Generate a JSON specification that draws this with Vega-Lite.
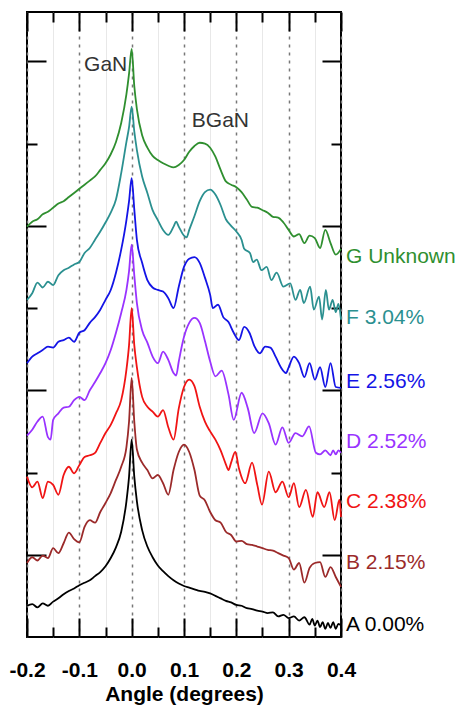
{
"$schema": "https://vega.github.io/schema/vega-lite/v6.json",
"width": 314, "height": 625,
"autosize": {"type": "none"},
"padding": {"left": 27, "top": 12, "right": 120, "bottom": 69},
"background": "white",
"config": {"view": {"stroke": "black", "strokeWidth": 2}, "font": "Liberation Sans"},
"datasets": {
"curves": [
{"s":"A","x":-0.2,"y":0.38},{"s":"A","x":-0.19,"y":0.40},{"s":"A","x":-0.18,"y":0.36},{"s":"A","x":-0.17,"y":0.41},{"s":"A","x":-0.16,"y":0.38},{"s":"A","x":-0.15,"y":0.43},{"s":"A","x":-0.14,"y":0.47},{"s":"A","x":-0.13,"y":0.52},{"s":"A","x":-0.12,"y":0.56},{"s":"A","x":-0.11,"y":0.59},{"s":"A","x":-0.1,"y":0.63},{"s":"A","x":-0.09,"y":0.66},{"s":"A","x":-0.08,"y":0.69},{"s":"A","x":-0.07,"y":0.74},{"s":"A","x":-0.06,"y":0.79},{"s":"A","x":-0.05,"y":0.86},{"s":"A","x":-0.04,"y":0.96},{"s":"A","x":-0.03,"y":1.09},{"s":"A","x":-0.02,"y":1.28},{"s":"A","x":-0.01,"y":1.65},{"s":"A","x":-0.005,"y":1.95},{"s":"A","x":0,"y":2.40},{"s":"A","x":0.005,"y":1.95},{"s":"A","x":0.01,"y":1.65},{"s":"A","x":0.02,"y":1.30},{"s":"A","x":0.03,"y":1.10},{"s":"A","x":0.04,"y":0.97},{"s":"A","x":0.05,"y":0.87},{"s":"A","x":0.06,"y":0.80},{"s":"A","x":0.07,"y":0.74},{"s":"A","x":0.08,"y":0.69},{"s":"A","x":0.09,"y":0.65},{"s":"A","x":0.1,"y":0.62},{"s":"A","x":0.11,"y":0.60},{"s":"A","x":0.12,"y":0.58},{"s":"A","x":0.13,"y":0.56},{"s":"A","x":0.14,"y":0.55},{"s":"A","x":0.15,"y":0.53},{"s":"A","x":0.16,"y":0.50},{"s":"A","x":0.17,"y":0.47},{"s":"A","x":0.18,"y":0.44},{"s":"A","x":0.19,"y":0.42},{"s":"A","x":0.2,"y":0.39},{"s":"A","x":0.21,"y":0.38},{"s":"A","x":0.22,"y":0.35},{"s":"A","x":0.23,"y":0.34},{"s":"A","x":0.24,"y":0.32},{"s":"A","x":0.25,"y":0.31},{"s":"A","x":0.26,"y":0.29},{"s":"A","x":0.27,"y":0.30},{"s":"A","x":0.28,"y":0.25},{"s":"A","x":0.29,"y":0.27},{"s":"A","x":0.3,"y":0.23},{"s":"A","x":0.31,"y":0.25},{"s":"A","x":0.32,"y":0.20},{"s":"A","x":0.33,"y":0.24},{"s":"A","x":0.34,"y":0.15},{"s":"A","x":0.345,"y":0.22},{"s":"A","x":0.35,"y":0.14},{"s":"A","x":0.355,"y":0.20},{"s":"A","x":0.36,"y":0.12},{"s":"A","x":0.365,"y":0.18},{"s":"A","x":0.37,"y":0.10},{"s":"A","x":0.375,"y":0.17},{"s":"A","x":0.38,"y":0.11},{"s":"A","x":0.385,"y":0.18},{"s":"A","x":0.39,"y":0.10},{"s":"A","x":0.395,"y":0.16},{"s":"A","x":0.4,"y":0.14},
{"s":"B","x":-0.2,"y":0.90},{"s":"B","x":-0.19,"y":0.97},{"s":"B","x":-0.18,"y":0.93},{"s":"B","x":-0.17,"y":0.99},{"s":"B","x":-0.16,"y":0.96},{"s":"B","x":-0.15,"y":1.08},{"s":"B","x":-0.14,"y":1.02},{"s":"B","x":-0.13,"y":1.14},{"s":"B","x":-0.12,"y":1.27},{"s":"B","x":-0.11,"y":1.19},{"s":"B","x":-0.1,"y":1.15},{"s":"B","x":-0.09,"y":1.34},{"s":"B","x":-0.08,"y":1.42},{"s":"B","x":-0.07,"y":1.39},{"s":"B","x":-0.06,"y":1.52},{"s":"B","x":-0.05,"y":1.63},{"s":"B","x":-0.04,"y":1.75},{"s":"B","x":-0.03,"y":1.91},{"s":"B","x":-0.02,"y":2.07},{"s":"B","x":-0.01,"y":2.31},{"s":"B","x":-0.005,"y":2.62},{"s":"B","x":0,"y":3.15},{"s":"B","x":0.005,"y":2.62},{"s":"B","x":0.01,"y":2.28},{"s":"B","x":0.02,"y":2.12},{"s":"B","x":0.03,"y":2.03},{"s":"B","x":0.04,"y":1.93},{"s":"B","x":0.05,"y":1.97},{"s":"B","x":0.06,"y":1.87},{"s":"B","x":0.07,"y":1.73},{"s":"B","x":0.08,"y":2.03},{"s":"B","x":0.09,"y":2.25},{"s":"B","x":0.1,"y":2.34},{"s":"B","x":0.11,"y":2.25},{"s":"B","x":0.12,"y":2.03},{"s":"B","x":0.13,"y":1.72},{"s":"B","x":0.14,"y":1.66},{"s":"B","x":0.15,"y":1.52},{"s":"B","x":0.16,"y":1.42},{"s":"B","x":0.17,"y":1.39},{"s":"B","x":0.18,"y":1.28},{"s":"B","x":0.19,"y":1.24},{"s":"B","x":0.2,"y":1.16},{"s":"B","x":0.21,"y":1.17},{"s":"B","x":0.22,"y":1.13},{"s":"B","x":0.23,"y":1.12},{"s":"B","x":0.24,"y":1.10},{"s":"B","x":0.25,"y":1.08},{"s":"B","x":0.26,"y":1.06},{"s":"B","x":0.27,"y":1.05},{"s":"B","x":0.28,"y":1.02},{"s":"B","x":0.29,"y":0.99},{"s":"B","x":0.3,"y":0.96},{"s":"B","x":0.31,"y":0.82},{"s":"B","x":0.32,"y":0.90},{"s":"B","x":0.33,"y":0.66},{"s":"B","x":0.34,"y":0.84},{"s":"B","x":0.35,"y":0.90},{"s":"B","x":0.36,"y":0.91},{"s":"B","x":0.37,"y":0.73},{"s":"B","x":0.38,"y":0.85},{"s":"B","x":0.39,"y":0.73},{"s":"B","x":0.4,"y":0.61},
{"s":"C","x":-0.2,"y":1.95},{"s":"C","x":-0.19,"y":1.82},{"s":"C","x":-0.18,"y":1.89},{"s":"C","x":-0.17,"y":1.69},{"s":"C","x":-0.16,"y":1.89},{"s":"C","x":-0.15,"y":1.85},{"s":"C","x":-0.14,"y":1.73},{"s":"C","x":-0.13,"y":1.97},{"s":"C","x":-0.12,"y":2.07},{"s":"C","x":-0.11,"y":1.99},{"s":"C","x":-0.1,"y":2.09},{"s":"C","x":-0.09,"y":2.19},{"s":"C","x":-0.08,"y":2.21},{"s":"C","x":-0.07,"y":2.24},{"s":"C","x":-0.06,"y":2.36},{"s":"C","x":-0.05,"y":2.48},{"s":"C","x":-0.04,"y":2.58},{"s":"C","x":-0.03,"y":2.72},{"s":"C","x":-0.02,"y":2.88},{"s":"C","x":-0.01,"y":3.25},{"s":"C","x":-0.005,"y":3.55},{"s":"C","x":0,"y":4.00},{"s":"C","x":0.005,"y":3.55},{"s":"C","x":0.01,"y":3.28},{"s":"C","x":0.02,"y":2.92},{"s":"C","x":0.03,"y":2.80},{"s":"C","x":0.04,"y":2.74},{"s":"C","x":0.05,"y":2.68},{"s":"C","x":0.06,"y":2.76},{"s":"C","x":0.07,"y":2.55},{"s":"C","x":0.08,"y":2.40},{"s":"C","x":0.09,"y":2.78},{"s":"C","x":0.1,"y":3.04},{"s":"C","x":0.11,"y":3.13},{"s":"C","x":0.12,"y":3.05},{"s":"C","x":0.13,"y":2.80},{"s":"C","x":0.14,"y":2.62},{"s":"C","x":0.15,"y":2.50},{"s":"C","x":0.16,"y":2.40},{"s":"C","x":0.17,"y":2.27},{"s":"C","x":0.18,"y":2.10},{"s":"C","x":0.185,"y":2.03},{"s":"C","x":0.19,"y":2.12},{"s":"C","x":0.198,"y":2.25},{"s":"C","x":0.205,"y":2.05},{"s":"C","x":0.217,"y":1.87},{"s":"C","x":0.23,"y":2.12},{"s":"C","x":0.24,"y":1.85},{"s":"C","x":0.249,"y":1.61},{"s":"C","x":0.262,"y":2.01},{"s":"C","x":0.275,"y":1.76},{"s":"C","x":0.288,"y":1.89},{"s":"C","x":0.3,"y":1.70},{"s":"C","x":0.31,"y":1.87},{"s":"C","x":0.32,"y":1.58},{"s":"C","x":0.333,"y":1.79},{"s":"C","x":0.346,"y":1.46},{"s":"C","x":0.355,"y":1.76},{"s":"C","x":0.368,"y":1.58},{"s":"C","x":0.378,"y":1.76},{"s":"C","x":0.388,"y":1.42},{"s":"C","x":0.397,"y":1.67},{"s":"C","x":0.4,"y":1.46},
{"s":"D","x":-0.2,"y":2.45},{"s":"D","x":-0.19,"y":2.52},{"s":"D","x":-0.18,"y":2.62},{"s":"D","x":-0.17,"y":2.68},{"s":"D","x":-0.16,"y":2.43},{"s":"D","x":-0.155,"y":2.40},{"s":"D","x":-0.15,"y":2.64},{"s":"D","x":-0.14,"y":2.72},{"s":"D","x":-0.13,"y":2.79},{"s":"D","x":-0.12,"y":2.80},{"s":"D","x":-0.11,"y":2.88},{"s":"D","x":-0.1,"y":2.92},{"s":"D","x":-0.09,"y":2.88},{"s":"D","x":-0.08,"y":3.00},{"s":"D","x":-0.07,"y":3.10},{"s":"D","x":-0.06,"y":3.21},{"s":"D","x":-0.05,"y":3.33},{"s":"D","x":-0.04,"y":3.49},{"s":"D","x":-0.03,"y":3.70},{"s":"D","x":-0.02,"y":3.94},{"s":"D","x":-0.01,"y":4.22},{"s":"D","x":-0.005,"y":4.45},{"s":"D","x":0,"y":4.77},{"s":"D","x":0.005,"y":4.40},{"s":"D","x":0.01,"y":4.06},{"s":"D","x":0.02,"y":3.73},{"s":"D","x":0.03,"y":3.58},{"s":"D","x":0.04,"y":3.41},{"s":"D","x":0.05,"y":3.33},{"s":"D","x":0.06,"y":3.47},{"s":"D","x":0.07,"y":3.37},{"s":"D","x":0.08,"y":3.21},{"s":"D","x":0.085,"y":3.18},{"s":"D","x":0.09,"y":3.35},{"s":"D","x":0.1,"y":3.65},{"s":"D","x":0.11,"y":3.82},{"s":"D","x":0.12,"y":3.88},{"s":"D","x":0.13,"y":3.82},{"s":"D","x":0.14,"y":3.60},{"s":"D","x":0.15,"y":3.35},{"s":"D","x":0.16,"y":3.17},{"s":"D","x":0.172,"y":3.24},{"s":"D","x":0.185,"y":2.95},{"s":"D","x":0.195,"y":2.64},{"s":"D","x":0.21,"y":2.97},{"s":"D","x":0.222,"y":2.78},{"s":"D","x":0.234,"y":2.48},{"s":"D","x":0.25,"y":2.72},{"s":"D","x":0.262,"y":2.60},{"s":"D","x":0.275,"y":2.34},{"s":"D","x":0.288,"y":2.55},{"s":"D","x":0.3,"y":2.36},{"s":"D","x":0.313,"y":2.48},{"s":"D","x":0.326,"y":2.44},{"s":"D","x":0.339,"y":2.56},{"s":"D","x":0.352,"y":2.24},{"s":"D","x":0.36,"y":2.22},{"s":"D","x":0.37,"y":2.27},{"s":"D","x":0.38,"y":2.21},{"s":"D","x":0.385,"y":2.27},{"s":"D","x":0.39,"y":2.22},{"s":"D","x":0.395,"y":2.27},{"s":"D","x":0.4,"y":2.24},
{"s":"E","x":-0.2,"y":3.33},{"s":"E","x":-0.19,"y":3.41},{"s":"E","x":-0.18,"y":3.45},{"s":"E","x":-0.17,"y":3.49},{"s":"E","x":-0.16,"y":3.53},{"s":"E","x":-0.15,"y":3.52},{"s":"E","x":-0.14,"y":3.59},{"s":"E","x":-0.13,"y":3.61},{"s":"E","x":-0.12,"y":3.64},{"s":"E","x":-0.11,"y":3.59},{"s":"E","x":-0.1,"y":3.70},{"s":"E","x":-0.09,"y":3.73},{"s":"E","x":-0.08,"y":3.82},{"s":"E","x":-0.07,"y":3.89},{"s":"E","x":-0.06,"y":3.98},{"s":"E","x":-0.05,"y":4.10},{"s":"E","x":-0.04,"y":4.22},{"s":"E","x":-0.03,"y":4.43},{"s":"E","x":-0.02,"y":4.71},{"s":"E","x":-0.01,"y":5.07},{"s":"E","x":-0.005,"y":5.30},{"s":"E","x":0,"y":5.58},{"s":"E","x":0.005,"y":5.20},{"s":"E","x":0.01,"y":4.83},{"s":"E","x":0.02,"y":4.55},{"s":"E","x":0.03,"y":4.34},{"s":"E","x":0.04,"y":4.25},{"s":"E","x":0.05,"y":4.22},{"s":"E","x":0.06,"y":4.20},{"s":"E","x":0.07,"y":4.12},{"s":"E","x":0.08,"y":4.00},{"s":"E","x":0.09,"y":4.26},{"s":"E","x":0.1,"y":4.50},{"s":"E","x":0.11,"y":4.60},{"s":"E","x":0.12,"y":4.62},{"s":"E","x":0.13,"y":4.55},{"s":"E","x":0.14,"y":4.37},{"s":"E","x":0.15,"y":4.16},{"s":"E","x":0.155,"y":4.00},{"s":"E","x":0.165,"y":4.04},{"s":"E","x":0.175,"y":3.89},{"s":"E","x":0.185,"y":3.83},{"s":"E","x":0.195,"y":3.70},{"s":"E","x":0.205,"y":3.61},{"s":"E","x":0.215,"y":3.77},{"s":"E","x":0.225,"y":3.70},{"s":"E","x":0.235,"y":3.53},{"s":"E","x":0.245,"y":3.45},{"s":"E","x":0.255,"y":3.53},{"s":"E","x":0.265,"y":3.52},{"s":"E","x":0.275,"y":3.41},{"s":"E","x":0.285,"y":3.28},{"s":"E","x":0.295,"y":3.21},{"s":"E","x":0.3,"y":3.28},{"s":"E","x":0.31,"y":3.41},{"s":"E","x":0.32,"y":3.33},{"s":"E","x":0.33,"y":3.16},{"s":"E","x":0.34,"y":3.33},{"s":"E","x":0.35,"y":3.13},{"s":"E","x":0.36,"y":3.28},{"s":"E","x":0.37,"y":3.04},{"s":"E","x":0.38,"y":3.33},{"s":"E","x":0.39,"y":3.04},{"s":"E","x":0.4,"y":3.03},
{"s":"F","x":-0.2,"y":4.10},{"s":"F","x":-0.19,"y":4.18},{"s":"F","x":-0.18,"y":4.31},{"s":"F","x":-0.17,"y":4.25},{"s":"F","x":-0.16,"y":4.32},{"s":"F","x":-0.15,"y":4.28},{"s":"F","x":-0.14,"y":4.40},{"s":"F","x":-0.13,"y":4.46},{"s":"F","x":-0.12,"y":4.49},{"s":"F","x":-0.11,"y":4.53},{"s":"F","x":-0.1,"y":4.56},{"s":"F","x":-0.09,"y":4.67},{"s":"F","x":-0.08,"y":4.73},{"s":"F","x":-0.07,"y":4.83},{"s":"F","x":-0.06,"y":4.93},{"s":"F","x":-0.05,"y":5.04},{"s":"F","x":-0.04,"y":5.16},{"s":"F","x":-0.03,"y":5.32},{"s":"F","x":-0.02,"y":5.64},{"s":"F","x":-0.01,"y":6.02},{"s":"F","x":-0.005,"y":6.20},{"s":"F","x":0,"y":6.45},{"s":"F","x":0.005,"y":6.15},{"s":"F","x":0.01,"y":5.92},{"s":"F","x":0.02,"y":5.60},{"s":"F","x":0.03,"y":5.40},{"s":"F","x":0.04,"y":5.19},{"s":"F","x":0.05,"y":5.07},{"s":"F","x":0.06,"y":4.95},{"s":"F","x":0.07,"y":4.89},{"s":"F","x":0.08,"y":4.99},{"s":"F","x":0.085,"y":5.05},{"s":"F","x":0.09,"y":4.99},{"s":"F","x":0.1,"y":4.88},{"s":"F","x":0.105,"y":4.86},{"s":"F","x":0.11,"y":4.95},{"s":"F","x":0.12,"y":5.12},{"s":"F","x":0.13,"y":5.30},{"s":"F","x":0.14,"y":5.41},{"s":"F","x":0.15,"y":5.44},{"s":"F","x":0.16,"y":5.38},{"s":"F","x":0.17,"y":5.25},{"s":"F","x":0.18,"y":5.08},{"s":"F","x":0.19,"y":5.00},{"s":"F","x":0.2,"y":4.93},{"s":"F","x":0.21,"y":4.83},{"s":"F","x":0.215,"y":4.72},{"s":"F","x":0.226,"y":4.67},{"s":"F","x":0.232,"y":4.56},{"s":"F","x":0.239,"y":4.59},{"s":"F","x":0.248,"y":4.46},{"s":"F","x":0.258,"y":4.50},{"s":"F","x":0.267,"y":4.34},{"s":"F","x":0.277,"y":4.43},{"s":"F","x":0.29,"y":4.26},{"s":"F","x":0.303,"y":4.30},{"s":"F","x":0.313,"y":4.10},{"s":"F","x":0.322,"y":4.22},{"s":"F","x":0.329,"y":4.06},{"s":"F","x":0.341,"y":4.26},{"s":"F","x":0.348,"y":3.98},{"s":"F","x":0.358,"y":4.14},{"s":"F","x":0.364,"y":3.86},{"s":"F","x":0.371,"y":4.22},{"s":"F","x":0.377,"y":3.98},{"s":"F","x":0.384,"y":4.10},{"s":"F","x":0.39,"y":3.95},{"s":"F","x":0.395,"y":4.05},{"s":"F","x":0.4,"y":3.86},
{"s":"G","x":-0.2,"y":4.99},{"s":"G","x":-0.19,"y":5.05},{"s":"G","x":-0.18,"y":5.08},{"s":"G","x":-0.17,"y":5.14},{"s":"G","x":-0.16,"y":5.17},{"s":"G","x":-0.15,"y":5.22},{"s":"G","x":-0.14,"y":5.27},{"s":"G","x":-0.13,"y":5.30},{"s":"G","x":-0.12,"y":5.35},{"s":"G","x":-0.11,"y":5.40},{"s":"G","x":-0.1,"y":5.45},{"s":"G","x":-0.09,"y":5.50},{"s":"G","x":-0.08,"y":5.55},{"s":"G","x":-0.07,"y":5.60},{"s":"G","x":-0.06,"y":5.68},{"s":"G","x":-0.05,"y":5.76},{"s":"G","x":-0.04,"y":5.87},{"s":"G","x":-0.03,"y":6.02},{"s":"G","x":-0.02,"y":6.25},{"s":"G","x":-0.01,"y":6.60},{"s":"G","x":-0.005,"y":6.85},{"s":"G","x":0,"y":7.15},{"s":"G","x":0.005,"y":6.70},{"s":"G","x":0.01,"y":6.42},{"s":"G","x":0.02,"y":6.10},{"s":"G","x":0.03,"y":5.95},{"s":"G","x":0.04,"y":5.85},{"s":"G","x":0.05,"y":5.80},{"s":"G","x":0.06,"y":5.76},{"s":"G","x":0.07,"y":5.73},{"s":"G","x":0.08,"y":5.71},{"s":"G","x":0.09,"y":5.74},{"s":"G","x":0.1,"y":5.80},{"s":"G","x":0.11,"y":5.90},{"s":"G","x":0.12,"y":5.97},{"s":"G","x":0.13,"y":6.01},{"s":"G","x":0.14,"y":6.00},{"s":"G","x":0.15,"y":5.95},{"s":"G","x":0.16,"y":5.84},{"s":"G","x":0.17,"y":5.68},{"s":"G","x":0.18,"y":5.54},{"s":"G","x":0.19,"y":5.50},{"s":"G","x":0.2,"y":5.47},{"s":"G","x":0.21,"y":5.41},{"s":"G","x":0.22,"y":5.32},{"s":"G","x":0.23,"y":5.23},{"s":"G","x":0.24,"y":5.22},{"s":"G","x":0.25,"y":5.19},{"s":"G","x":0.26,"y":5.16},{"s":"G","x":0.27,"y":5.11},{"s":"G","x":0.28,"y":5.10},{"s":"G","x":0.29,"y":5.04},{"s":"G","x":0.3,"y":4.95},{"s":"G","x":0.31,"y":4.87},{"s":"G","x":0.32,"y":4.90},{"s":"G","x":0.33,"y":4.79},{"s":"G","x":0.34,"y":4.88},{"s":"G","x":0.35,"y":4.85},{"s":"G","x":0.36,"y":4.73},{"s":"G","x":0.37,"y":4.95},{"s":"G","x":0.38,"y":4.79},{"s":"G","x":0.39,"y":4.65},{"s":"G","x":0.4,"y":4.72}
],
"labels": [
{"s":"G","t":"G Unknown","y":4.62},
{"s":"F","t":"F 3.04%","y":3.88},
{"s":"E","t":"E 2.56%","y":3.10},
{"s":"D","t":"D 2.52%","y":2.37},
{"s":"C","t":"C 2.38%","y":1.64},
{"s":"B","t":"B 2.15%","y":0.90},
{"s":"A","t":"A 0.00%","y":0.15}
],
"notes": [
{"t":"GaN","x":-0.091,"y":6.96},
{"t":"BGaN","x":0.115,"y":6.28}
]
},
"layer": [
{
"data": {"name": "curves"},
"mark": {"type": "line", "strokeWidth": 1.8, "interpolate": "monotone"},
"encoding": {
"x": {"field": "x", "type": "quantitative",
"scale": {"domain": [-0.2, 0.4], "nice": false, "zero": false},
"axis": {"orient": "bottom", "values": [-0.2,-0.15,-0.1,-0.05,0,0.05,0.1,0.15,0.2,0.25,0.3,0.35,0.4],
"labelExpr": "round(datum.value*100) % 10 == 0 ? (datum.value < 0 ? '-' + format(-datum.value, '.1f') : format(datum.value, '.1f')) : ''",
"labelFont": "Liberation Sans", "labelFontSize": 21, "labelFontWeight": "bold", "labelColor": "black",
"labelPadding": 41, "labelFlush": false,
"tickSize": {"expr": "round(datum.value*100) % 10 == 0 ? -19 : -10"},
"tickColor": "black", "tickWidth": 2, "domain": false,
"grid": true,
"gridDash": {"condition": {"test": "round(datum.value*100) % 10 == 0", "value": [3, 5]}, "value": []},
"gridColor": {"condition": {"test": "round(datum.value*100) % 10 == 0", "value": "#777777"}, "value": "#e8e8e8"},
"gridWidth": {"condition": {"test": "round(datum.value*100) % 10 == 0", "value": 1.5}, "value": 1},
"title": "Angle (degrees)", "titleFont": "Liberation Sans", "titleFontSize": 21, "titleFontWeight": "bold", "titleColor": "black", "titlePadding": 3}},
"y": {"field": "y", "type": "quantitative",
"scale": {"domain": [0, 7.6], "nice": false, "zero": false},
"axis": {"orient": "left", "values": [1,2,3,4,5,6,7], "labels": false, "grid": false, "domain": false, "title": null,
"tickSize": {"expr": "datum.value % 2 == 1 ? -19 : -10"}, "tickColor": "black", "tickWidth": 2}},
"color": {"field": "s", "type": "nominal",
"scale": {"domain": ["A","B","C","D","E","F","G"], "range": ["#000000","#9b2a2a","#f01414","#9933ff","#1414e6","#2b9090","#2f8f2f"]},
"legend": null}
}
},
{
"data": {"name": "labels"},
"mark": {"type": "text", "align": "left", "baseline": "middle", "dx": 5, "fontSize": 21, "font": "Liberation Sans"},
"encoding": {
"x": {"datum": 0.4, "type": "quantitative",
"axis": {"orient": "top", "values": [-0.2,-0.15,-0.1,-0.05,0,0.05,0.1,0.15,0.2,0.25,0.3,0.35,0.4], "labels": false, "grid": false, "domain": false, "title": null,
"tickSize": {"expr": "round(datum.value*100) % 10 == 0 ? -19 : -10"}, "tickColor": "black", "tickWidth": 2}},
"y": {"field": "y", "type": "quantitative",
"axis": {"orient": "right", "values": [1,2,3,4,5,6,7], "labels": false, "grid": false, "domain": false, "title": null,
"tickSize": {"expr": "datum.value % 2 == 1 ? -19 : -10"}, "tickColor": "black", "tickWidth": 2}},
"text": {"field": "t"},
"color": {"field": "s", "type": "nominal", "legend": null}
}
},
{
"data": {"name": "notes"},
"mark": {"type": "text", "align": "left", "baseline": "middle", "fontSize": 21, "font": "Liberation Sans", "color": "#333333"},
"encoding": {
"x": {"field": "x", "type": "quantitative", "axis": null},
"y": {"field": "y", "type": "quantitative", "axis": null},
"text": {"field": "t"}
}
}
],
"resolve": {"axis": {"x": "independent", "y": "independent"}}
}
